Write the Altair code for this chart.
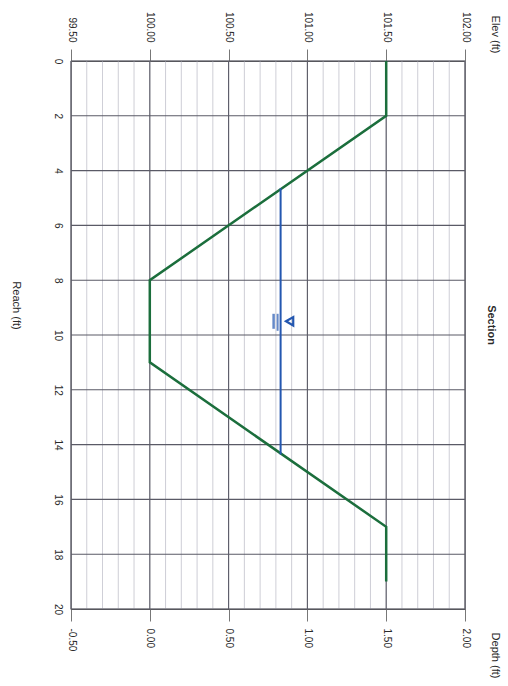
import altair as alt
import pandas as pd

# ground profile
ground_reach = [0, 2, 8, 11, 17, 19]
ground_elev = [101.5, 101.5, 100.0, 100.0, 101.5, 101.5]

# water surface
water_reach = [4.64, 14.36]
water_elev = [100.83, 100.83]
symbol_reach = [9.5]
symbol_elev = [100.83]

elev_ticks = [99.5, 100.0, 100.5, 101.0, 101.5, 102.0]
elev_minor = [round(99.5 + 0.1 * i, 2) for i in range(26)]
reach_ticks = list(range(0, 21, 2))

ground = pd.DataFrame({"reach": ground_reach, "elev": ground_elev})
water = pd.DataFrame({"reach": water_reach, "elev": water_elev})
symbol = pd.DataFrame({"reach": symbol_reach, "elev": symbol_elev})
minor = pd.DataFrame({"elev": elev_minor})
major = pd.DataFrame({"elev": elev_ticks})
hgrid = pd.DataFrame({"reach": reach_ticks})

FONT = "Liberation Sans"
TXT = "#2a2a2a"

xscale = alt.Scale(domain=[99.5, 102.0], nice=False, zero=False)
yscale = alt.Scale(domain=[0, 20], reverse=True, nice=False, zero=False)

y_axis = alt.Axis(
    values=reach_ticks, format="d", labelAngle=90, labelAlign="center",
    labelBaseline="top", tickSize=0, labelPadding=9, grid=False, domain=False,
    labelFont=FONT, labelFontSize=10, labelColor=TXT,
    title="Reach (ft)", titleAngle=90, titleX=-56, titleY=244,
    titleAlign="center", titleBaseline="middle", titleFont=FONT,
    titleFontSize=11, titleFontWeight="normal", titleColor=TXT,
)

minor_rules = alt.Chart(minor).mark_rule(color="#c2c2cc", strokeWidth=0.8).encode(
    x=alt.X("elev:Q", scale=xscale, axis=None)
)
major_rules = alt.Chart(major).mark_rule(color="#5a5a66", strokeWidth=1.1).encode(
    x=alt.X("elev:Q", scale=xscale, axis=None)
)
h_rules = alt.Chart(hgrid).mark_rule(color="#5a5a66", strokeWidth=1.1).encode(
    y=alt.Y("reach:Q", scale=yscale, axis=y_axis)
)

top_axis = alt.Axis(
    orient="top", values=elev_ticks, format=".2f", labelAngle=90,
    labelAlign="right", labelBaseline="middle", tickSize=12, labelPadding=7,
    tickColor="#777", domain=False, grid=False,
    labelFont=FONT, labelFontSize=10, labelColor=TXT,
    title="Elev (ft)", titleAngle=90, titleX=423, titleY=-27,
    titleAlign="center", titleBaseline="middle", titleFont=FONT,
    titleFontSize=11, titleFontWeight="normal", titleColor=TXT,
)
bottom_axis = alt.Axis(
    orient="bottom", values=elev_ticks,
    labelExpr="replace(format(datum.value - 100, '.2f'), '\u2212', '-')",
    labelAngle=90, labelAlign="left", labelBaseline="middle", tickSize=12,
    labelPadding=7, tickColor="#777", domain=False, grid=False,
    labelFont=FONT, labelFontSize=10, labelColor=TXT,
    title="Depth (ft)", titleAngle=90, titleX=423, titleY=46,
    titleAlign="center", titleBaseline="middle", titleFont=FONT,
    titleFontSize=11, titleFontWeight="normal", titleColor=TXT,
)

ground_line = alt.Chart(ground).mark_line(color="#1b6e3c", strokeWidth=2.5).encode(
    x=alt.X("elev:Q", scale=xscale, axis=top_axis),
    y=alt.Y("reach:Q", scale=yscale),
    order="reach:Q",
)
water_line = alt.Chart(water).mark_line(color="#2457b0", strokeWidth=2).encode(
    x=alt.X("elev:Q", scale=xscale, axis=bottom_axis),
    y=alt.Y("reach:Q", scale=yscale),
)
tri = alt.Chart(symbol).mark_point(
    shape="triangle-left", filled=False, color="#2457b0", strokeWidth=2.2,
    size=70, xOffset=9, opacity=1,
).encode(
    x=alt.X("elev:Q", scale=xscale, axis=None),
    y=alt.Y("reach:Q", scale=yscale),
)
bar1 = alt.Chart(symbol).mark_tick(
    orient="vertical", color="#2457b0", thickness=2.5, size=15, xOffset=-7
).encode(
    x=alt.X("elev:Q", scale=xscale, axis=None),
    y=alt.Y("reach:Q", scale=yscale),
)
bar2 = alt.Chart(symbol).mark_tick(
    orient="vertical", color="#2457b0", thickness=2, size=17, xOffset=-3, yOffset=1
).encode(
    x=alt.X("elev:Q", scale=xscale, axis=None),
    y=alt.Y("reach:Q", scale=yscale),
)

section_title = alt.Chart(symbol).mark_text(
    text="Section", angle=90, align="center", baseline="middle",
    font=FONT, fontSize=11, fontWeight="bold", color=TXT,
).encode(x=alt.value(420), y=alt.value(264))

chart = (
    alt.layer(minor_rules, major_rules, h_rules, ground_line, water_line,
              bar1, bar2, tri, section_title)
    .resolve_axis(x="independent")
    .properties(
        width=394, height=548,
        autosize=alt.AutoSizeParams(type="none"),
        padding={"left": 71, "top": 61, "right": 43, "bottom": 77},
        background="white",
    )
    .configure_view(stroke="#555", strokeWidth=1.2)
)

chart.save("out.html", embed_options={"renderer": "svg", "actions": False})
